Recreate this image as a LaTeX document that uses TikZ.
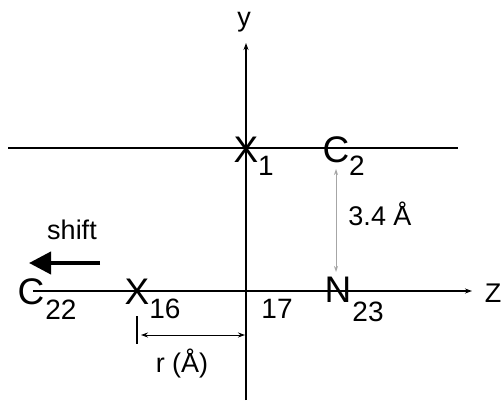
\documentclass[tikz,border=0pt]{standalone}
\usepackage{fontspec}
\setmainfont{Liberation Sans}
\usetikzlibrary{arrows.meta}
\begin{document}
\begin{tikzpicture}[x=1pt,y=-1pt,
  atom/.style={inner sep=0pt,font=\fontsize{37}{37}\selectfont},
  sub/.style={inner sep=0pt,font=\fontsize{28}{28}\selectfont},
  lab/.style={inner sep=0pt,font=\fontsize{27}{27}\selectfont},
  axis/.style={line width=1.3pt,-{Stealth[length=7pt,width=5pt]}},
  plain/.style={line width=1.3pt}]
\useasboundingbox (0,0) rectangle (502,403);
% coordinates
\coordinate (ybot) at (246,400);
\coordinate (ytop) at (246,43);
\coordinate (tl) at (8,148);
\coordinate (tr) at (458,148);
\coordinate (zl) at (33,291);
\coordinate (zr) at (472,291);
\coordinate (sa) at (100,263);
\coordinate (sb) at (29,263);
\coordinate (tk1) at (137,316);
\coordinate (tk2) at (137,344);
\coordinate (ra) at (141,335);
\coordinate (rb) at (245,335);
\coordinate (ga) at (336,169);
\coordinate (gb) at (336,272);
% axes
\draw[axis] (ybot) -- (ytop);
\draw[plain] (tl) -- (tr);
\draw[axis] (zl) -- (zr);
% atoms
\node[atom] (x1) at (246,150) {X};
\node[sub] (x1s) at (266,166) {1};
\node[atom] (c2) at (336,150) {C};
\node[sub] (c2s) at (357,166) {2};
\node[atom] (c22) at (31,292) {C};
\node[sub] (c22s) at (61,310) {22};
\node[atom] (x16) at (137,292) {X};
\node[sub] (x16s) at (165,309) {16};
\node[atom] (n23) at (338,290) {N};
\node[sub] (n23s) at (368,312) {23};
\node[sub] (n17) at (277,309) {17};
% labels
\node[lab] (ylab) at (244,22) {y};
\node[lab] (zlab) at (493,293) {Z};
\node[lab] (dist) at (380,214) {3.4 Å};
\node[lab] (shift) at (72,230) {shift};
\node[lab] (rlab) at (182,364) {r (Å)};
% gray distance arrow
\draw[gray!70,line width=0.9pt,{Stealth[length=6pt,width=4pt]}-{Stealth[length=6pt,width=4pt]}] (ga) -- (gb);
% shift arrow
\draw[line width=4pt,-{Triangle[length=22pt,width=22pt]}] (sa) -- (sb);
% r arrow
\draw[line width=1.2pt] (tk1) -- (tk2);
\draw[line width=1pt,{Stealth[length=7pt,width=5pt]}-{Stealth[length=7pt,width=5pt]}] (ra) -- (rb);
\end{tikzpicture}
\end{document}
